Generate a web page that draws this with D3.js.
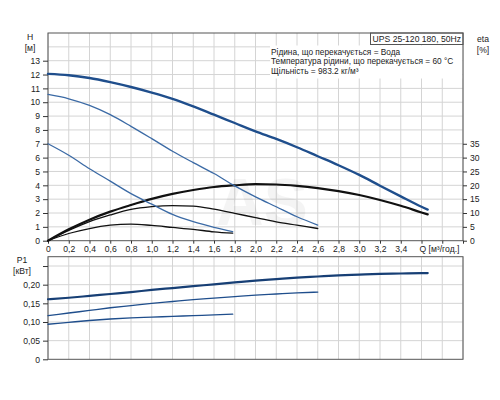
<!DOCTYPE html>
<html>
<head>
<meta charset="utf-8">
<script src="https://cdn.jsdelivr.net/npm/d3@7"></script>
<style>
  body { margin: 0; background: #fff; }
  svg text { font-family: "Liberation Sans", Arial, sans-serif; fill: #333; }
</style>
</head>
<body>
<div id="viz"></div>
<script>
//-------Data-------------------------------
var qHigh = [0, 0.2, 0.4, 0.6, 0.8, 1.0, 1.2, 1.4, 1.6, 1.8, 2.0, 2.2, 2.4, 2.6, 2.8, 3.0, 3.2, 3.4, 3.6, 3.66];
var hHigh = [12.05, 11.95, 11.75, 11.45, 11.1, 10.7, 10.25, 9.7, 9.1, 8.5, 7.9, 7.35, 6.75, 6.1, 5.45, 4.75, 3.97, 3.2, 2.45, 2.25];
var etaHigh = [0, 4.1, 7.6, 10.5, 12.9, 15.1, 16.9, 18.3, 19.4, 20.0, 20.4, 20.3, 19.8, 19.0, 17.9, 16.5, 14.7, 12.6, 10.2, 9.5];
var p1High = [0.161, 0.165, 0.170, 0.175, 0.180, 0.186, 0.191, 0.196, 0.201, 0.206, 0.211, 0.215, 0.219, 0.222, 0.225, 0.227, 0.229, 0.230, 0.231, 0.231];

var qMid = [0, 0.2, 0.4, 0.6, 0.8, 1.0, 1.2, 1.4, 1.6, 1.8, 2.0, 2.2, 2.4, 2.6];
var hMid = [10.56, 10.25, 9.77, 9.1, 8.26, 7.37, 6.46, 5.64, 4.85, 3.96, 3.17, 2.45, 1.73, 1.13];
var etaMid = [0, 3.7, 6.9, 9.3, 11.3, 12.3, 12.7, 12.5, 11.4, 9.9, 8.3, 6.8, 5.6, 4.4];
var p1Mid = [0.117, 0.124, 0.131, 0.138, 0.144, 0.150, 0.155, 0.160, 0.164, 0.168, 0.172, 0.175, 0.178, 0.180];

var qLow = [0, 0.2, 0.4, 0.6, 0.8, 1.0, 1.2, 1.4, 1.6, 1.78];
var hLow = [7.0, 6.17, 5.2, 4.3, 3.4, 2.64, 1.9, 1.37, 0.96, 0.65];
var etaLow = [0, 2.6, 4.4, 5.6, 6.0, 5.5, 4.8, 4.1, 3.2, 2.7];
var p1Low = [0.094, 0.099, 0.104, 0.108, 0.111, 0.113, 0.115, 0.117, 0.119, 0.121];

var qTicks = d3.range(0, 4.001, 0.2);
var qLabels = d3.range(0, 3.401, 0.2);
var hTicks = d3.range(0, 14, 1);
var etaTicks = d3.range(0, 40, 5);
var pTicks = [0, 0.05, 0.10, 0.15, 0.20, 0.25];

var infoLines = ["Рідина, що перекачується = Вода",
                 "Температура рідини, що перекачується = 60 °C",
                 "Щільність = 983.2 кг/м³"];
var pumpTitle = "UPS 25-120 180, 50Hz";

//---------------------------------
var width = 500, height = 400;
var left = 48, right = 463;
var topTop = 33, topBottom = 240.7;
var botTop = 256.7, botBottom = 359.3;

var svg = d3.select("#viz").append("svg")
    .attr("width", width)
    .attr("height", height);

//------Scales-----------
var x = d3.scaleLinear().domain([0, 4]).range([left, right]);
var yH = d3.scaleLinear().domain([0, 15]).range([topBottom, topTop]);
var yEta = d3.scaleLinear().domain([0, 75]).range([topBottom, topTop]);
var yP = d3.scaleLinear().domain([0, 0.275]).range([botBottom, botTop]);

var comma = function(d, digits) {
    return d === 0 ? "0" : d3.format("." + digits + "f")(d).replace(".", ",");
};

//------Grids-----------
function grid(yScale, yVals, y0, y1) {
    var g = svg.append("g").attr("class", "grid");
    g.selectAll("line.v").data(qTicks).enter().append("line")
        .attr("x1", d => x(d)).attr("x2", d => x(d))
        .attr("y1", y0).attr("y2", y1)
        .style("stroke", "#d4d4d4").style("stroke-width", "1px");
    g.selectAll("line.h").data(yVals).enter().append("line")
        .attr("x1", left).attr("x2", right)
        .attr("y1", d => yScale(d)).attr("y2", d => yScale(d))
        .style("stroke", "#d4d4d4").style("stroke-width", "1px");
}
grid(yH, d3.range(1, 15, 1), topTop, topBottom);
grid(yP, [0.05, 0.10, 0.15, 0.20, 0.25], botTop, botBottom);

// faint watermark
svg.append("text")
    .attr("x", x(1.62)).attr("y", yH(1.1))
    .style("font-size", "66px").style("font-weight", "bold")
    .style("fill", "#000").style("opacity", 0.04)
    .text("AS");

// info box over the grid
svg.append("rect")
    .attr("x", 270).attr("y", 45.5).attr("width", right - 270 - 0.5).attr("height", 33)
    .style("fill", "#fff");
svg.append("g").selectAll("text").data(infoLines).enter().append("text")
    .attr("x", 271).attr("y", (d, i) => 55 + i * 9.3)
    .style("font-size", "8.3px").style("fill", "#222")
    .text(d => d);

svg.append("rect")
    .attr("x", 370.5).attr("y", topTop).attr("width", right - 370.5).attr("height", 11.5)
    .style("fill", "#fff").style("stroke", "#555").style("stroke-width", "1px");
svg.append("text")
    .attr("x", right - 2).attr("y", topTop + 9)
    .attr("text-anchor", "end")
    .style("font-size", "8.6px").style("fill", "#222")
    .text(pumpTitle);

//------Frames and axes-----------
[[topTop, topBottom], [botTop, botBottom]].forEach(function(r) {
    svg.append("rect")
        .attr("x", left).attr("y", r[0])
        .attr("width", right - left).attr("height", r[1] - r[0])
        .style("fill", "none").style("stroke", "#555").style("stroke-width", "1px");
});

function styleAxis(g) {
    g.select(".domain").remove();
    g.selectAll(".tick line").style("stroke", "#333");
    g.selectAll(".tick text").style("font-size", "8.6px").style("fill", "#222")
        .style("font-family", "'Liberation Sans', Arial, sans-serif");
}

svg.append("g")
    .attr("transform", "translate(" + left + ",0)")
    .call(d3.axisLeft(yH).tickValues(hTicks).tickSize(5).tickPadding(3).tickFormat(d3.format("d")))
    .call(styleAxis);

svg.append("g")
    .attr("transform", "translate(" + right + ",0)")
    .call(d3.axisRight(yEta).tickValues(etaTicks).tickSize(4).tickPadding(3).tickFormat(d3.format("d")))
    .call(styleAxis);

// tick marks at every grid step, labels only up to 3,4
svg.append("g")
    .attr("transform", "translate(0," + topBottom + ")")
    .call(d3.axisBottom(x).tickValues(qTicks).tickSize(3).tickFormat(""))
    .call(styleAxis);
svg.append("g")
    .attr("transform", "translate(0," + topBottom + ")")
    .call(d3.axisBottom(x).tickValues(qLabels).tickSize(0).tickPadding(5)
        .tickFormat(d => comma(d, 1)))
    .call(styleAxis);

svg.append("text")
    .attr("x", x(3.6) - 2).attr("y", topBottom + 11.5)
    .style("font-size", "8.6px").style("fill", "#222")
    .text("Q [м³/год.]");

svg.append("g")
    .attr("transform", "translate(" + left + ",0)")
    .call(d3.axisLeft(yP).tickValues(pTicks).tickSize(5).tickPadding(3)
        .tickFormat(d => d > 0.22 ? "" : comma(d, 2)))
    .call(styleAxis);

// axis titles
function title(xPos, yPos, lines) {
    svg.append("g").selectAll("text").data(lines).enter().append("text")
        .attr("x", xPos).attr("y", (d, i) => yPos + i * 11)
        .attr("text-anchor", "middle")
        .style("font-size", "8.6px").style("fill", "#222")
        .text(d => d);
}
title(30, 40, ["H", "[м]"]);
title(483, 42, ["eta", "[%]"]);
title(22, 263, ["P1", "[кВт]"]);

//------Curves-----------
function curve(qs, vals, yScale, color, w) {
    var line = d3.line()
        .x((d, i) => x(qs[i]))
        .y(d => yScale(d))
        .curve(d3.curveMonotoneX);
    svg.append("path")
        .datum(vals)
        .attr("d", line)
        .style("fill", "none")
        .style("stroke", color)
        .style("stroke-width", w + "px")
        .style("stroke-linecap", "round");
}

var darkBlue = "#1f4e8c", blue = "#3b6aa5", black = "#111";

curve(qLow, etaLow, yEta, black, 1.3);
curve(qMid, etaMid, yEta, black, 1.3);
curve(qHigh, etaHigh, yEta, black, 2.2);

curve(qLow, hLow, yH, blue, 1.3);
curve(qMid, hMid, yH, blue, 1.3);
curve(qHigh, hHigh, yH, darkBlue, 2.4);

curve(qLow, p1Low, yP, darkBlue, 1.4);
curve(qMid, p1Mid, yP, darkBlue, 1.4);
curve(qHigh, p1High, yP, "#173f75", 2.2);
</script>
</body>
</html>
